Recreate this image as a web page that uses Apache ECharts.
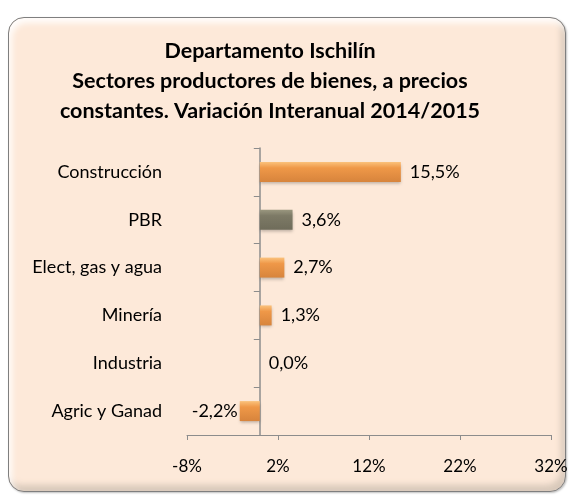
<!DOCTYPE html>
<html>
<head>
<meta charset="utf-8">
<script src="https://cdn.jsdelivr.net/npm/echarts@6/dist/echarts.min.js"></script>
<style>
  html, body { margin: 0; padding: 0; background: #fff; }
  .wrap { position: relative; width: 573px; height: 496px; }
  .panel {
    position: absolute; left: 8px; top: 17px; width: 556px; height: 473px;
    border: 1px solid #7f7f7f; border-radius: 16px;
    background: #fde9d9;
    box-shadow: inset 3px 5px 6px rgba(255,255,255,0.9), inset -4px -6px 6px rgba(150,140,130,0.35), 1px 1px 2px rgba(0,0,0,0.25);
  }
  #chart { position: absolute; left: 0; top: 0; width: 573px; height: 496px; }
</style>
</head>
<body>
<div class="wrap">
  <div class="panel"></div>
  <div id="chart"></div>
</div>
<script>
// datos (de abajo hacia arriba, como en el eje de categorías)
const sectores = ['Agric y Ganad', 'Industria', 'Minería', 'Elect, gas y agua', 'PBR', 'Construcción']
const variacion = [-2.2, 0.0, 1.3, 2.7, 3.6, 15.5]
const xTicks = [-8, 2, 12, 22, 32]

const naranja = new echarts.graphic.LinearGradient(0, 0, 0, 1, [
  { offset: 0, color: '#fbc27c' },
  { offset: 0.3, color: '#ef9848' },
  { offset: 1, color: '#d7843c' },
])
const gris = new echarts.graphic.LinearGradient(0, 0, 0, 1, [
  { offset: 0, color: '#9a977f' },
  { offset: 0.3, color: '#7d7a66' },
  { offset: 1, color: '#6f6c5a' },
])

const fmt = v => v.toFixed(1).replace('.', ',') + '%'

const myChart = echarts.init(document.getElementById('chart'))
myChart.setOption({
  textStyle: { fontFamily: 'Lato' },
  title: {
    text: 'Departamento Ischilín\nSectores productores de bienes, a precios\nconstantes. Variación Interanual 2014/2015',
    left: 265,
    textAlign: 'center',
    top: 31,
    textStyle: { fontFamily: 'Lato', fontWeight: 'bold', fontSize: 21.5, lineHeight: 30, color: '#000' },
  },
  grid: { left: 187, right: 22, top: 148, bottom: 61, containLabel: false },
  xAxis: {
    type: 'value',
    min: xTicks[0],
    max: xTicks[xTicks.length - 1],
    interval: 10,
    splitLine: { show: false },
    axisLine: { show: true, lineStyle: { color: '#8c8c8c' } },
    axisTick: { show: true, length: 5, lineStyle: { color: '#8c8c8c' } },
    axisLabel: { margin: 23, fontSize: 17, color: '#000', formatter: v => v + '%' },
  },
  yAxis: [
    {
      type: 'category',
      data: sectores,
      axisLine: { show: true, onZero: true, lineStyle: { color: '#8c8c8c', width: 1.5 } },
      axisTick: { show: true, length: 6, lineStyle: { color: '#8c8c8c' } },
      axisLabel: { show: false },
    },
    {
      type: 'category',
      data: sectores,
      position: 'left',
      axisLine: { show: false, onZero: false },
      axisTick: { show: false },
      axisLabel: { margin: 25, fontSize: 18, color: '#000' },
    },
  ],
  series: [
    {
      type: 'bar',
      yAxisIndex: 0,
      barWidth: 20,
      data: variacion.map((v, i) => ({
        value: v,
        itemStyle: { color: sectores[i] === 'PBR' ? gris : naranja },
        label: { position: v < 0 ? 'left' : 'right', distance: v < 0 ? 2 : 9 },
      })),
      itemStyle: { shadowColor: 'rgba(0,0,0,0.25)', shadowBlur: 3, shadowOffsetY: 2 },
      label: {
        show: true,
        fontSize: 18,
        color: '#000',
        formatter: p => fmt(p.value),
      },
    },
  ],
})
</script>
</body>
</html>
